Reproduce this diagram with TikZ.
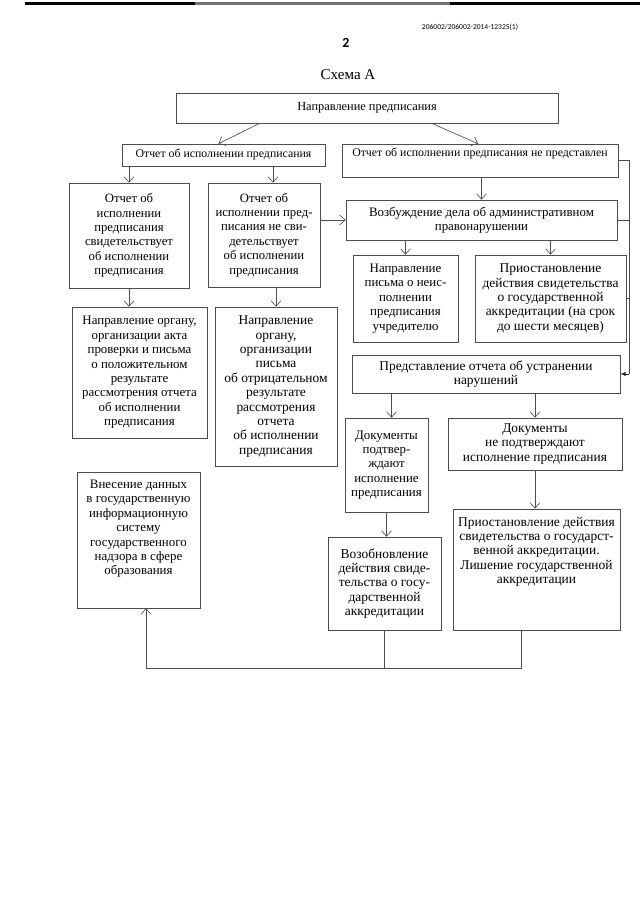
\documentclass[tikz,border=0pt]{standalone}
\usepackage{fontspec}
\setmainfont{Liberation Serif}
\newfontfamily\carl{Carlito}
\usetikzlibrary{arrows.meta,calc}
\newcommand\fz[1]{\fontsize{#1}{13.4}\selectfont}
\begin{document}
\begin{tikzpicture}[x=0.9297pt,y=-0.9297pt,
 box/.style={draw=black!70,line width=0.6pt,inner sep=0pt,align=center,font=\fz{12.5}},
 wh/.style 2 args={minimum width=#1*0.9297pt,minimum height=#2*0.9297pt},
 txt/.style={inner sep=0pt,align=center,font=\fz{12.5}},
 arr/.style={draw=black!70,line width=0.6pt,-{Straight Barb[length=5pt,width=9pt]}},
 ln/.style={draw=black!70,line width=0.6pt},
 farr/.style={draw=black!85,line width=0.6pt,-{Latex[length=5pt,width=4pt]}}]
\useasboundingbox (0,0) rectangle (640,905);
% top scan bar
\draw[line width=3.5pt] (25,3.5) -- (195,3.5);
\draw[black!55,line width=2.5pt] (195,3.5) -- (450,3.5);
\draw[line width=3.5pt] (450,3.5) -- (640,3.5);
% header
\node[font=\carl\fontsize{7}{8}\selectfont] (code) at (470,27) {206002/206002-2014-12325(1)};
\node[font=\carl\bfseries\fontsize{13}{14}\selectfont] (pnum) at (346,43) {2};
\node[font=\fontsize{14}{16}\selectfont] (title) at (348,75) {Схема А};
% boxes
\node[box,font=\fz{11.5},wh={382}{30}] (b1) at (367,108) {Направление предписания};
\node[box,font=\fz{11},wh={203}{22}] (b2) at (223.5,155) {Отчет об исполнении предписания};
\node[box,wh={276}{33}] (b3) at (480,160.5) {};
\node[txt,font=\fz{11},anchor=north] (b3t) at ($(b3.north)+(0,4)$) {Отчет об исполнении предписания не представлен};
\node[box,font=\fz{11.8},wh={120}{105}] (b4) at (129,235.5) {Отчет об\\исполнении\\предписания\\свидетельствует\\об исполнении\\предписания};
\node[box,font=\fz{11.8},wh={112}{104}] (b5) at (264,235) {Отчет об\\исполнении пред-\\писания не сви-\\детельствует\\об исполнении\\предписания};
\node[box,font=\fz{12},wh={271}{40}] (b6) at (481.5,220) {Возбуждение дела об административном\\правонарушении};
\node[box,font=\fz{12},wh={105}{87}] (b7) at (405.5,298.5) {Направление\\письма о неис-\\полнении\\предписания\\учредителю};
\node[box,wh={151}{87}] (b8) at (550.5,298.5) {Приостановление\\действия свидетельства\\о государственной\\аккредитации (на срок\\до шести месяцев)};
\node[box,font=\fz{12},wh={135}{131}] (b9) at (139.5,372.5) {Направление органу,\\организации акта\\проверки и письма\\о положительном\\результате\\рассмотрения отчета\\об исполнении\\предписания};
\node[box,wh={122}{159}] (b10) at (276,386.5) {Направление\\органу,\\организации\\письма\\об отрицательном\\результате\\рассмотрения\\отчета\\об исполнении\\предписания};
\node[box,wh={268}{38}] (b11) at (486,374) {Представление отчета об устранении\\нарушений};
\node[box,font=\fz{12},wh={83}{94}] (b12) at (386.5,465) {Документы\\подтвер-\\ждают\\исполнение\\предписания};
\node[box,wh={174}{52}] (b13) at (535,444) {Документы\\не подтверждают\\исполнение предписания};
\node[box,wh={113}{93}] (b14) at (384.5,583.5) {Возобновление\\действия свиде-\\тельства о госу-\\дарственной\\аккредитации};
\node[box,wh={167}{121}] (b15) at (536.5,569.5) {};
\node[txt,anchor=north] (b15t) at ($(b15.north)+(0,8)$) {Приостановление действия\\свидетельства о государст-\\венной аккредитации.\\Лишение государственной\\аккредитации};
\node[box,wh={123}{136}] (b16) at (138.5,540) {};
\node[txt,font=\fz{12},anchor=north] (b16t) at ($(b16.north)+(0,8)$) {Внесение данных\\в государственную\\информационную\\систему\\государственного\\надзора в сфере\\образования};
% connectors
\draw[arr] ($(b1.south west)+(84,0)$) -- ($(b2.north)+(-5,0)$);
\draw[arr] ($(b1.south west)+(256,0)$) -- ($(b3.north)+(-2,0)$);
\draw[arr] (b4.north |- b2.south) -- (b4.north);
\coordinate (c25) at ($(b5.north)+(9,0)$);
\draw[arr] (c25 |- b2.south) -- (c25);
\draw[arr] (b6.north |- b3.south) -- (b6.north);
\draw[arr] (b5.east |- b6.west) -- (b6.west);
\draw[arr] (b7.north |- b6.south) -- (b7.north);
\draw[arr] (b8.north |- b6.south) -- (b8.north);
\draw[arr] (b4.south) -- (b4.south |- b9.north);
\draw[arr] (b10.north |- b5.south) -- (b10.north);
\coordinate (rx) at (629,0);
\draw[ln] (b3.east) -- (b3.east -| rx) -- (rx |- b11.east);
\draw[ln] (b6.east) -- (b6.east -| rx);
\draw[ln] (b8.east) -- (b8.east -| rx);
\draw[farr] (rx |- b11.east) -- (b11.east);
\coordinate (c1112) at ($(b12.north)+(5,0)$);
\draw[arr] (c1112 |- b11.south) -- (c1112);
\draw[arr] (b13.north |- b11.south) -- (b13.north);
\draw[arr] (b12.south) -- (b12.south |- b14.north);
\draw[arr] (b13.south) -- (b13.south |- b15.north);
\coordinate (bx) at (146,668);
\coordinate (c15) at ($(b15.south)+(-15,0)$);
\draw[ln] (b14.south) -- (b14.south |- bx);
\draw[arr] (c15) -- (c15 |- bx) -- (bx) -- (bx |- b16.south);
\end{tikzpicture}
\end{document}
